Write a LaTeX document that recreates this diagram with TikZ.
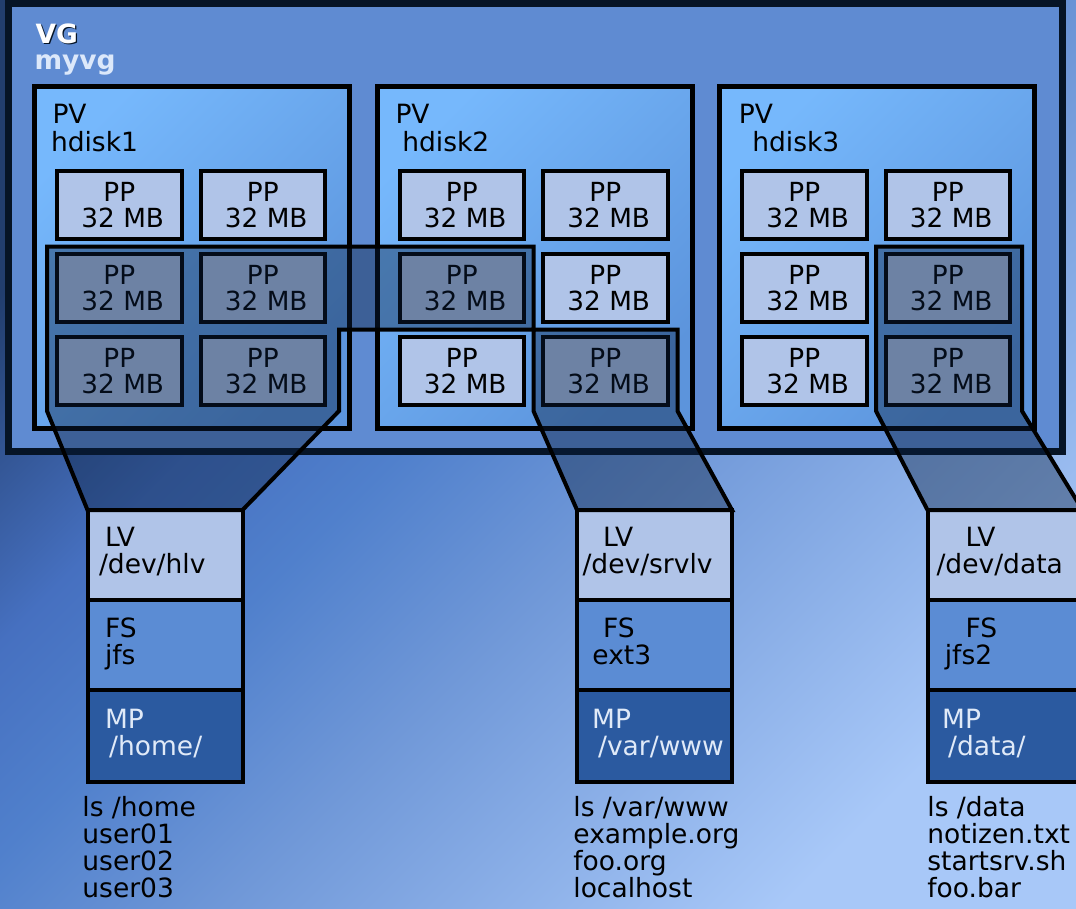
\documentclass[tikz,border=0pt]{standalone}
\usepackage{fontspec}
\setmainfont{DejaVu Sans}
\definecolor{bgA}{HTML}{223E6E}
\definecolor{bgB}{HTML}{4670C0}
\definecolor{bgC}{HTML}{5080CC}
\definecolor{bgD}{HTML}{7098D8}
\definecolor{bgE}{HTML}{A8C8F8}
\definecolor{vgfill}{HTML}{5F8BD2}
\definecolor{vgline}{HTML}{061426}
\definecolor{pvtop}{HTML}{76B8FC}
\definecolor{pvbot}{HTML}{5C94DC}
\definecolor{ppfill}{HTML}{B0C4E8}
\definecolor{fsfill}{HTML}{5B8CD4}
\definecolor{mpfill}{HTML}{2B5AA0}
\definecolor{mptext}{HTML}{E0EAF8}
\definecolor{ovfill}{HTML}{0A2040}
\definecolor{myvgtext}{HTML}{DCE8FA}
\pgfdeclareverticalshading{bgshade}{100bp}{color(0bp)=(bgE); color(25bp)=(bgE); color(45bp)=(bgD); color(55bp)=(bgC); color(62.5bp)=(bgB); color(75bp)=(bgA); color(100bp)=(bgA)}
\begin{document}
\begin{tikzpicture}[x=1pt,y=-1pt,
  every node/.style={inner sep=0pt,outer sep=0pt},
  vgbox/.style={draw=vgline,line width=7pt,fill=vgfill,minimum width=1053.5pt,minimum height=448pt},
  pvbox/.style={draw=black,line width=5pt,top color=pvtop,bottom color=pvbot,shading angle=45,minimum width=315pt,minimum height=342pt},
  ppbox/.style={draw=black,line width=4pt,fill=ppfill,minimum width=124.5pt,minimum height=68pt,align=center,font=\fontsize{26.3}{26.6}\selectfont},
  stackbox/.style={draw=black,line width=4pt,minimum width=155pt},
  lvbox/.style={stackbox,fill=ppfill,minimum height=90pt},
  fsbox/.style={stackbox,fill=fsfill,minimum height=90pt},
  mpbox/.style={stackbox,fill=mpfill,minimum height=92pt},
  lvshade/.style={draw=black,line width=4pt,line join=miter,fill=ovfill,fill opacity=0.4},
  lbl/.style={anchor=north west,align=left,text=black,font=\fontsize{26.5}{27}\selectfont},
  pvlbl/.style={lbl,font=\fontsize{26.5}{28.4}\selectfont},
  mplbl/.style={lbl,text=mptext},
  lslbl/.style={lbl,font=\fontsize{26.5}{26.9}\selectfont},
  vglbl/.style={anchor=base west,font=\bfseries\fontsize{26.5}{26.5}\selectfont},
]
\useasboundingbox (0,0) rectangle (1076,908);
\clip (0,0) rectangle (1076,908);
\shade[shading=bgshade,shading angle=45] (0,0) rectangle (1076,908);
\node[vgbox] (vg) at (535.25,227.5) {};
\foreach \i/\d in {0/1,1/2,2/3}{
  \node[pvbox] (pv\d) at ({192+342.5*\i},257.5) {};
  \foreach \r in {0,1,2}{
    \foreach \c in {0,1}{
      \node[ppbox] (pp\d\r\c) at ({119.25+342.5*\i+143.5*\c},{205+83*\r}) {PP\\\hspace*{7pt}32 MB};
    }
  }
}
% logical volume stacks
\node[lvbox] (hlv) at (165,555) {};
\node[fsbox] (hfs) at (165,645) {};
\node[mpbox] (hmp) at (165,736) {};
\node[lvbox] (slv) at (654.5,555) {};
\node[fsbox] (sfs) at (654.5,645) {};
\node[mpbox] (smp) at (654.5,736) {};
\node[lvbox] (dlv) at (1005,555) {};
\node[fsbox] (dfs) at (1005,645) {};
\node[mpbox] (dmp) at (1005,736) {};
% overlays
\path[lvshade] (47,246.5) -- (533.5,246.5) -- (533.5,329.5) -- (339,329.5) -- (339,411) -- (hlv.north east) -- (hlv.north west) -- (47,411) -- cycle;
\path[lvshade] (533.5,329.5) -- (677.5,329.5) -- (677.5,411) -- (slv.north east) -- (slv.north west) -- (533.5,411) -- cycle;
\path[lvshade] (876,246.5) -- (1022,246.5) -- (1022,411) -- (dlv.north east) -- (dlv.north west) -- (876,411) -- cycle;
% labels
\node[vglbl,text=vgline] (vgsh) at (36.8,44.4) {VG};
\node[vglbl,text=white] (vgt) at (35.5,43.3) {VG};
\node[vglbl,text=myvgtext] (myvg) at (34.5,69) {myvg};
\node[pvlbl] (pvt1) at (51,104) {\hspace*{1.5pt}PV\\hdisk1};
\node[pvlbl] (pvt2) at (395.5,104) {PV\\\hspace*{6.8pt}hdisk2};
\node[pvlbl] (pvt3) at (738.8,104) {PV\\\hspace*{13.5pt}hdisk3};
\node[lbl] (hlvt) at (99,526.7) {\hspace*{6pt}LV\\/dev/hlv};
\node[lbl] (hfst) at (105,617.4) {FS\\jfs};
\node[mplbl] (hmpt) at (105,709) {MP\\\hspace*{4.2pt}/home/};
\node[lslbl] (hls) at (82.4,796.5) {ls /home\\user01\\user02\\user03};
\node[lbl] (slvt) at (582.5,526.7) {\hspace*{20.7pt}LV\\/dev/srvlv};
\node[lbl] (sfst) at (592.4,617.4) {\hspace*{10.8pt}FS\\ext3};
\node[mplbl] (smpt) at (592.2,709) {MP\\\hspace*{5.9pt}/var/www};
\node[lslbl] (sls) at (573.4,796.5) {ls /var/www\\example.org\\foo.org\\localhost};
\node[lbl] (dlvt) at (936.5,526.7) {\hspace*{29pt}LV\\/dev/data};
\node[lbl] (dfst) at (944.8,617.4) {\hspace*{20.7pt}FS\\jfs2};
\node[mplbl] (dmpt) at (942.2,709) {MP\\\hspace*{5.9pt}/data/};
\node[lslbl] (dls) at (927.4,796.5) {ls /data\\notizen.txt\\startsrv.sh\\foo.bar};
\end{tikzpicture}
\end{document}
